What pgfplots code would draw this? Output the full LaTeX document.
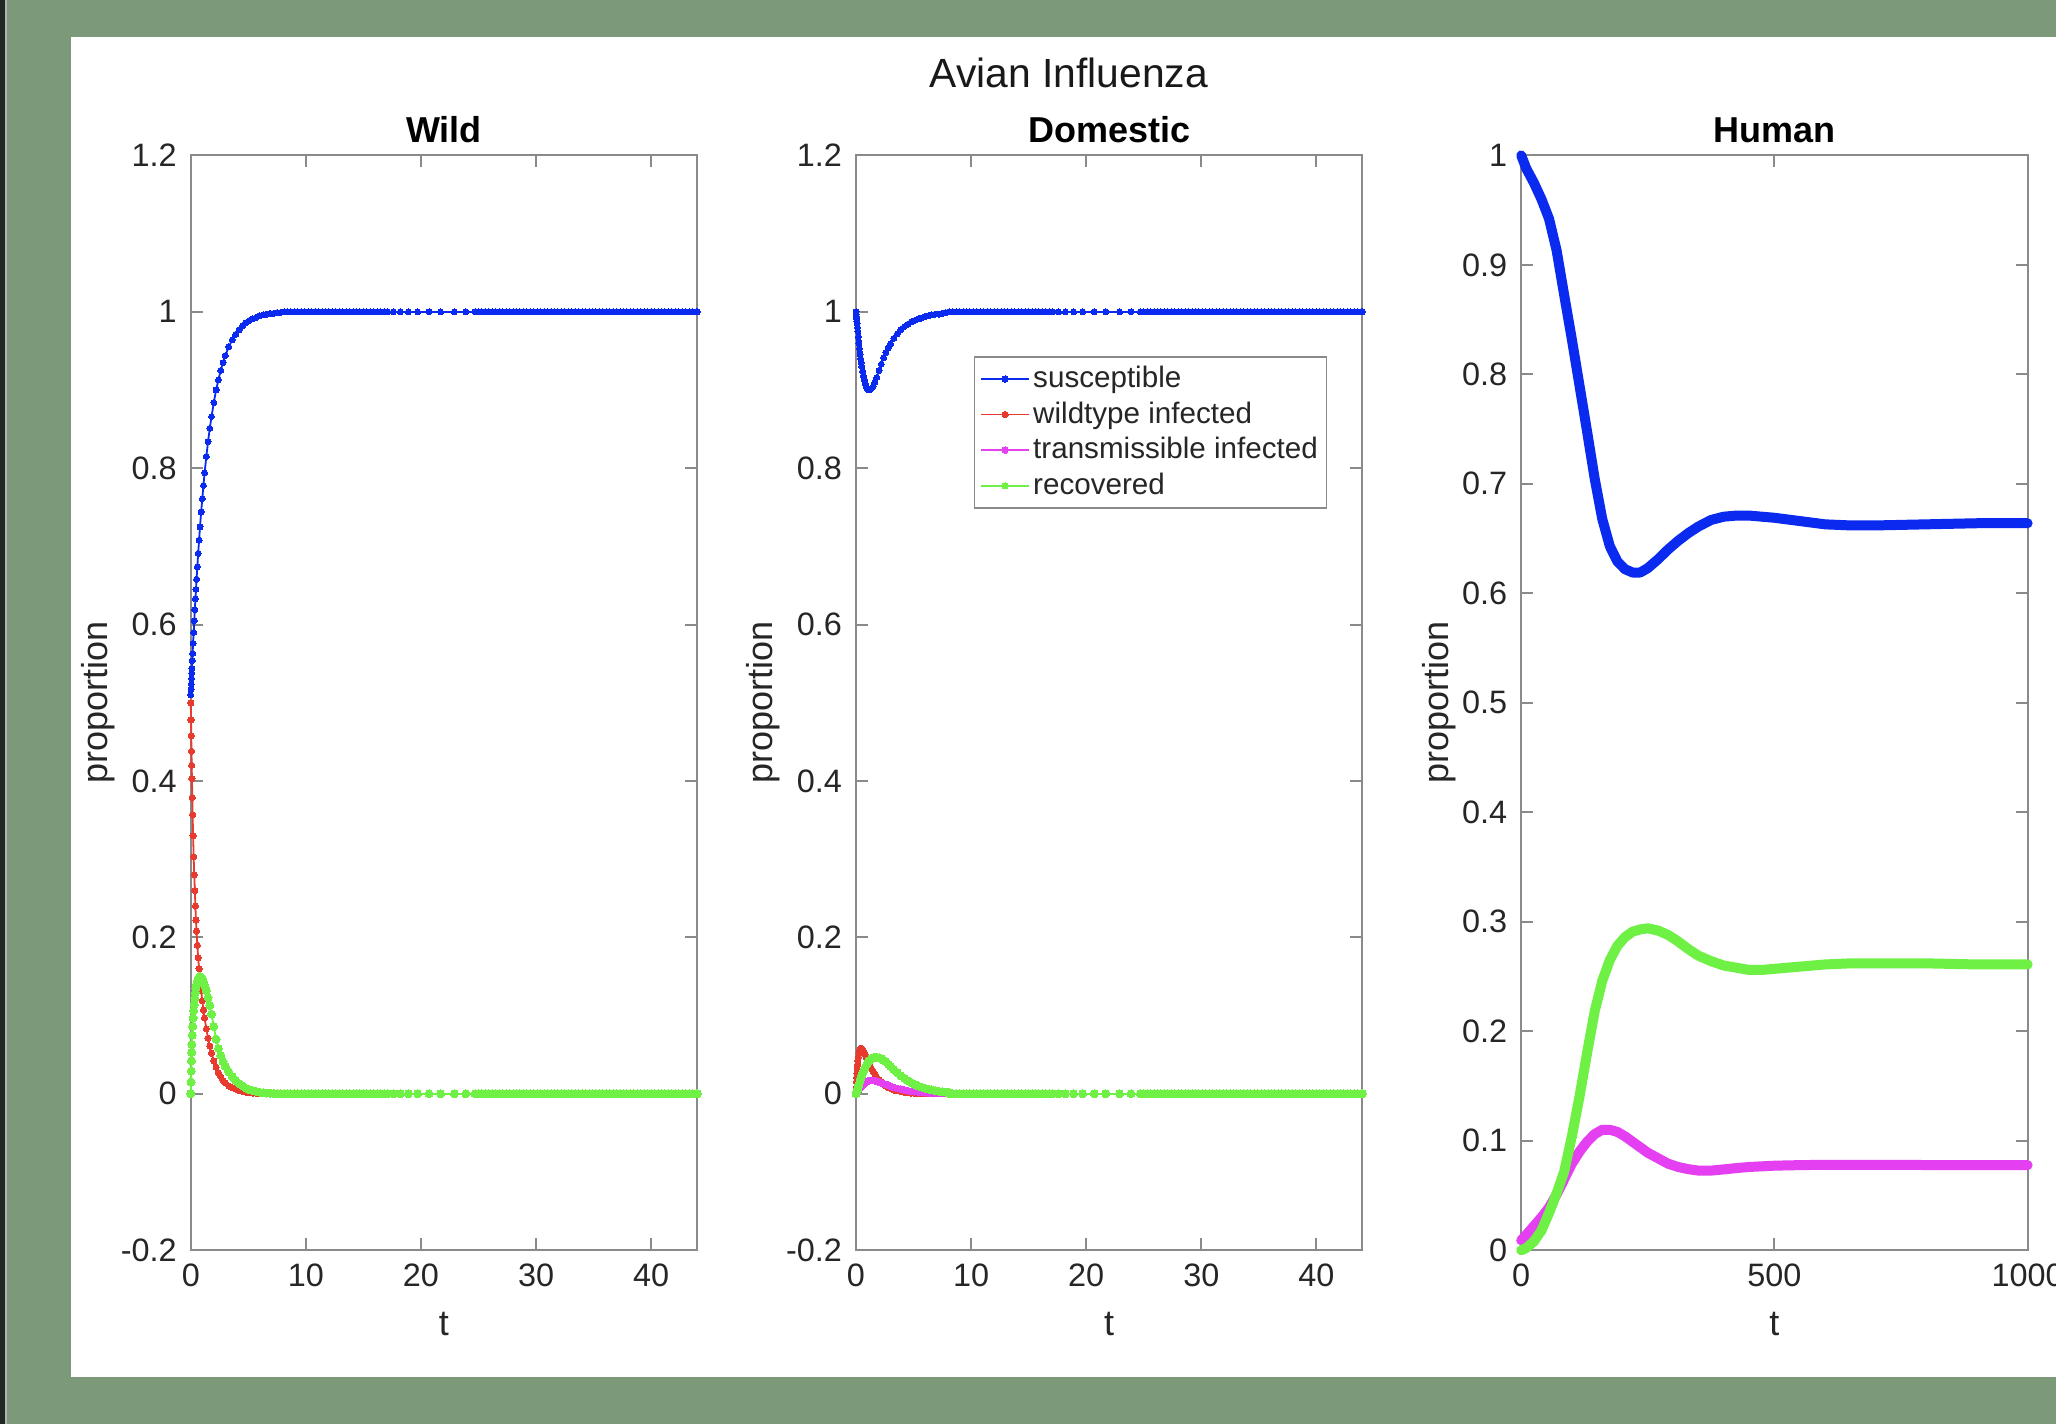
\documentclass[border=0pt]{standalone}
\usepackage{pgfplots}
\pgfplotsset{compat=1.18}
\usepackage{pgfplotstable}
\usepackage{fontspec}
\setmainfont{Liberation Sans}
\setsansfont{Liberation Sans}

\definecolor{bggreen}{HTML}{7C9A7A}
\definecolor{strip}{HTML}{1E2A22}
\definecolor{sblue}{HTML}{0A2BEF}
\definecolor{sred}{HTML}{E63B2E}
\definecolor{smag}{HTML}{E43FF0}
\definecolor{sgreen}{HTML}{6EF045}
\definecolor{axgray}{HTML}{8A8A8A}
\definecolor{txt}{HTML}{262626}

% wild birds, first 8 time units (t S W T R)
\pgfplotstableread[row sep=\\]{
t S W T R\\
0 0.510 0.500 0 0\\
0.02 0.517 0.478 0 0.015\\
0.04 0.524 0.458 0 0.029\\
0.06 0.531 0.438 0 0.042\\
0.08 0.538 0.420 0 0.053\\
0.10 0.544 0.403 0 0.063\\
0.13 0.554 0.379 0 0.075\\
0.16 0.563 0.357 0 0.086\\
0.20 0.576 0.330 0 0.097\\
0.25 0.590 0.303 0 0.106\\
0.30 0.605 0.280 0 0.114\\
0.35 0.619 0.260 0 0.122\\
0.40 0.633 0.240 0 0.129\\
0.45 0.645 0.222 0 0.135\\
0.50 0.658 0.208 0 0.140\\
0.57 0.674 0.190 0 0.144\\
0.64 0.691 0.174 0 0.147\\
0.72 0.708 0.160 0 0.149\\
0.80 0.725 0.147 0 0.150\\
0.90 0.744 0.132 0 0.149\\
1.00 0.761 0.119 0 0.147\\
1.10 0.778 0.107 0 0.143\\
1.20 0.794 0.097 0 0.139\\
1.35 0.815 0.083 0 0.132\\
1.50 0.834 0.071 0 0.123\\
1.65 0.851 0.061 0 0.113\\
1.80 0.866 0.052 0 0.102\\
2.00 0.884 0.042 0 0.086\\
2.20 0.900 0.034 0 0.070\\
2.40 0.913 0.027 0 0.058\\
2.60 0.925 0.022 0 0.049\\
2.80 0.935 0.017 0 0.041\\
3.00 0.944 0.014 0 0.035\\
3.30 0.955 0.010 0 0.028\\
3.60 0.964 0.008 0 0.022\\
3.90 0.971 0.006 0 0.017\\
4.20 0.977 0.004 0 0.013\\
4.50 0.982 0.003 0 0.010\\
4.80 0.986 0.002 0 0.007\\
5.10 0.989 0.0015 0 0.005\\
5.40 0.991 0.001 0 0.004\\
5.70 0.993 0.0007 0 0.003\\
6.00 0.995 0.0005 0 0.002\\
6.30 0.996 0 0 0.0015\\
6.60 0.997 0 0 0.001\\
6.90 0.998 0 0 0.0007\\
7.20 0.998 0 0 0.0005\\
7.50 0.999 0 0 0.0003\\
7.80 0.999 0 0 0.0002\\
8.10 1.000 0 0 0\\
}\wildhead

% domestic birds, first 8 time units
\pgfplotstableread[row sep=\\]{
t S W T R\\
0 1.000 0 0 0\\
0.02 0.997 0.008 0.0004 0.0006\\
0.04 0.994 0.015 0.0008 0.0013\\
0.06 0.991 0.021 0.0012 0.002\\
0.08 0.988 0.026 0.0016 0.003\\
0.10 0.985 0.031 0.002 0.004\\
0.13 0.980 0.037 0.0027 0.0055\\
0.16 0.975 0.042 0.0034 0.007\\
0.20 0.968 0.047 0.0043 0.009\\
0.25 0.960 0.052 0.0054 0.0115\\
0.30 0.953 0.055 0.0064 0.014\\
0.35 0.946 0.057 0.0074 0.0165\\
0.40 0.940 0.058 0.0083 0.019\\
0.45 0.935 0.058 0.0092 0.021\\
0.50 0.930 0.058 0.010 0.023\\
0.57 0.924 0.057 0.011 0.026\\
0.64 0.918 0.055 0.012 0.028\\
0.72 0.913 0.053 0.013 0.031\\
0.80 0.908 0.050 0.014 0.034\\
0.90 0.904 0.046 0.015 0.037\\
1.00 0.901 0.043 0.016 0.039\\
1.10 0.900 0.040 0.0165 0.041\\
1.20 0.900 0.037 0.017 0.043\\
1.35 0.902 0.032 0.017 0.045\\
1.50 0.905 0.028 0.017 0.046\\
1.65 0.910 0.025 0.0165 0.0465\\
1.80 0.916 0.021 0.016 0.0465\\
2.00 0.925 0.018 0.015 0.046\\
2.20 0.933 0.015 0.014 0.045\\
2.40 0.941 0.012 0.013 0.043\\
2.60 0.948 0.010 0.012 0.041\\
2.80 0.954 0.008 0.011 0.038\\
3.00 0.959 0.007 0.0095 0.035\\
3.30 0.966 0.005 0.008 0.031\\
3.60 0.972 0.004 0.0068 0.027\\
3.90 0.977 0.003 0.0057 0.023\\
4.20 0.981 0.002 0.0048 0.020\\
4.50 0.984 0.0015 0.004 0.017\\
4.80 0.987 0.001 0.0033 0.014\\
5.10 0.989 0.0008 0.0027 0.012\\
5.40 0.991 0.0005 0.0022 0.010\\
5.70 0.992 0.0003 0.0018 0.0085\\
6.00 0.994 0.0002 0.0015 0.007\\
6.30 0.995 0 0.0012 0.006\\
6.60 0.996 0 0.001 0.005\\
6.90 0.997 0 0.0008 0.004\\
7.20 0.997 0 0.0006 0.0033\\
7.50 0.998 0 0.0005 0.0027\\
7.80 0.999 0 0.0004 0.0022\\
8.10 1.000 0 0 0.0018\\
}\domhead

% flat part after t = 8 (same solver steps in both bird panels)
\pgfplotstableread[row sep=\\]{
t one zero\\
8.1 1 0\\ 8.4 1 0\\ 8.7 1 0\\ 9.0 1 0\\ 9.3 1 0\\ 9.6 1 0\\ 9.9 1 0\\ 10.2 1 0\\
10.5 1 0\\ 10.8 1 0\\ 11.1 1 0\\ 11.4 1 0\\ 11.7 1 0\\ 12.0 1 0\\ 12.3 1 0\\ 12.6 1 0\\
12.9 1 0\\ 13.2 1 0\\ 13.5 1 0\\ 13.8 1 0\\ 14.1 1 0\\ 14.4 1 0\\ 14.7 1 0\\ 15.0 1 0\\
15.3 1 0\\ 15.6 1 0\\ 15.9 1 0\\ 16.2 1 0\\ 16.5 1 0\\ 16.8 1 0\\ 17.1 1 0\\ 17.6 1 0\\
18.2 1 0\\ 18.9 1 0\\ 19.7 1 0\\ 20.7 1 0\\ 21.7 1 0\\ 22.9 1 0\\ 23.9 1 0\\ 24.7 1 0\\
25.0 1 0\\ 25.3 1 0\\ 25.6 1 0\\ 25.9 1 0\\ 26.2 1 0\\ 26.5 1 0\\ 26.8 1 0\\ 27.1 1 0\\
27.4 1 0\\ 27.7 1 0\\ 28.0 1 0\\ 28.3 1 0\\ 28.6 1 0\\ 28.9 1 0\\ 29.2 1 0\\ 29.5 1 0\\
29.8 1 0\\ 30.1 1 0\\ 30.4 1 0\\ 30.7 1 0\\ 31.0 1 0\\ 31.3 1 0\\ 31.6 1 0\\ 31.9 1 0\\
32.2 1 0\\ 32.5 1 0\\ 32.8 1 0\\ 33.1 1 0\\ 33.4 1 0\\ 33.7 1 0\\ 34.0 1 0\\ 34.3 1 0\\
34.6 1 0\\ 34.9 1 0\\ 35.2 1 0\\ 35.5 1 0\\ 35.8 1 0\\ 36.1 1 0\\ 36.4 1 0\\ 36.7 1 0\\
37.0 1 0\\ 37.3 1 0\\ 37.6 1 0\\ 37.9 1 0\\ 38.2 1 0\\ 38.5 1 0\\ 38.8 1 0\\ 39.1 1 0\\
39.4 1 0\\ 39.7 1 0\\ 40.0 1 0\\ 40.3 1 0\\ 40.6 1 0\\ 40.9 1 0\\ 41.2 1 0\\ 41.5 1 0\\
41.8 1 0\\ 42.1 1 0\\ 42.4 1 0\\ 42.7 1 0\\ 43.0 1 0\\ 43.3 1 0\\ 43.6 1 0\\ 43.9 1 0\\
44.0 1 0\\
}\tail

% humans (t S T R)
\pgfplotstableread[row sep=\\]{
t S T R\\
0 1.000 0.009 0\\
10 0.988 0.014 0.002\\
25 0.975 0.022 0.008\\
40 0.960 0.030 0.018\\
55 0.942 0.039 0.034\\
70 0.913 0.051 0.052\\
85 0.872 0.065 0.072\\
100 0.832 0.079 0.104\\
115 0.790 0.090 0.140\\
130 0.748 0.099 0.180\\
145 0.705 0.106 0.218\\
160 0.668 0.110 0.246\\
175 0.643 0.110 0.265\\
190 0.629 0.108 0.278\\
205 0.622 0.104 0.286\\
220 0.619 0.099 0.291\\
235 0.619 0.094 0.293\\
250 0.623 0.089 0.294\\
270 0.631 0.084 0.292\\
290 0.640 0.079 0.288\\
310 0.648 0.076 0.282\\
330 0.655 0.074 0.275\\
350 0.661 0.0727 0.269\\
375 0.667 0.0727 0.264\\
400 0.670 0.0738 0.260\\
425 0.671 0.0750 0.258\\
450 0.671 0.0760 0.256\\
475 0.670 0.0766 0.256\\
500 0.669 0.0772 0.257\\
550 0.666 0.0777 0.259\\
600 0.663 0.0780 0.261\\
650 0.662 0.0780 0.262\\
700 0.662 0.0780 0.262\\
800 0.663 0.0778 0.262\\
900 0.664 0.0777 0.261\\
1000 0.664 0.0777 0.261\\
}\human

\pgfplotsset{
  avian/.style={
    scale only axis, width=126.6pt, height=273.7pt,
    anchor=south west, clip=false,
    axis line style={axgray, line width=0.5pt},
    tick style={axgray, line width=0.5pt},
    major tick length=3pt, tick align=inside,
    xtick pos=both, ytick pos=both,
    tick label style={font=\fontsize{8.1}{9}\selectfont, text=txt},
    label style={font=\fontsize{9}{10}\selectfont, text=txt},
    title style={font=\fontsize{9}{10}\selectfont\bfseries,
      at={(axis description cs:0.5,0.9901)}, anchor=base},
    /pgf/number format/assume math mode=true,
    /pgf/number format/1000 sep={},
    xlabel={t}, ylabel={proportion},
    xlabel style={at={(axis description cs:0.5,-0.0676)}, anchor=center},
  },
  birds/.style={avian, xmin=0, xmax=44, ymin=-0.2, ymax=1.2,
    xtick={0,10,20,30,40}, ytick={-0.2,0,0.2,0.4,0.6,0.8,1,1.2}},
  dots/.style={line width=0.45pt, mark=*, mark size=#1,
    mark options={solid, line width=0pt}},
  thickline/.style={line width=2.5pt, line join=round, line cap=round},
}

\begin{document}
\begin{tikzpicture}
\useasboundingbox (0,0) rectangle (514pt,356pt);
\fill[bggreen] (0,0) rectangle (514pt,356pt);
\fill[white] (17.75pt,11.75pt) rectangle (514pt,346.75pt);
\fill[strip] (0,0) rectangle (1.2pt,356pt);
\fill[black!30] (1.2pt,0) rectangle (1.7pt,356pt);
\node[font=\fontsize{10.2}{12}\selectfont, text=black!90, anchor=base]
  at (267.2pt,334pt) {Avian Influenza};

% Wild
\begin{axis}[birds, at={(47.7pt,43.45pt)}, title={Wild},
  ylabel style={at={(axis description cs:-0.1825,0.5)}, anchor=center}]
\addplot[sblue, dots=0.75pt] table[x=t, y=S] {\wildhead};
\addplot[sblue, dots=0.75pt] table[x=t, y=one] {\tail};
\addplot[sred, dots=0.78pt] table[x=t, y=W] {\wildhead};
\addplot[sred, dots=0.78pt] table[x=t, y=zero] {\tail};
\addplot[sgreen, dots=1.0pt] table[x=t, y=R] {\wildhead};
\addplot[sgreen, dots=1.0pt] table[x=t, y=zero] {\tail};
\end{axis}

% Domestic
\begin{axis}[birds, at={(214.0pt,43.45pt)}, title={Domestic},
  ylabel style={at={(axis description cs:-0.1833,0.5)}, anchor=center},
  legend style={at={(axis description cs:0.2327,0.8168)}, anchor=north west,
    draw=axgray, fill=white, font=\fontsize{7.4}{8}\selectfont, text=txt,
    inner xsep=1.4pt, inner ysep=1.1pt, row sep=0pt,
    nodes={inner sep=0.8pt, text height=5.8pt, text depth=1.5pt}},
  legend cell align=left,
  legend image code/.code={
    \draw[mark repeat=2, mark phase=2, mark size=0.8pt, #1]
      plot coordinates {(0pt,0pt) (6pt,0pt) (12pt,0pt)};}]
\addplot[sblue, dots=0.75pt] table[x=t, y=S] {\domhead};
\addlegendentry{susceptible}
\addplot[sred, dots=0.78pt] table[x=t, y=W] {\domhead};
\addlegendentry{wildtype infected}
\addplot[smag, dots=0.85pt] table[x=t, y=T] {\domhead};
\addlegendentry{transmissible infected}
\addplot[sgreen, dots=1.0pt] table[x=t, y=R] {\domhead};
\addlegendentry{recovered}
\addplot[sblue, dots=0.75pt, forget plot] table[x=t, y=one] {\tail};
\addplot[sgreen, dots=1.0pt, forget plot] table[x=t, y=zero] {\tail};
\end{axis}

% Human
\begin{axis}[avian, at={(380.3pt,43.45pt)}, title={Human},
  xmin=0, xmax=1000, ymin=0, ymax=1,
  xtick={0,500,1000}, ytick={0,0.1,0.2,0.3,0.4,0.5,0.6,0.7,0.8,0.9,1},
  ylabel style={at={(axis description cs:-0.1611,0.5)}, anchor=center}]
\addplot[sblue, thickline] table[x=t, y=S] {\human};
\addplot[smag, thickline] table[x=t, y=T] {\human};
\addplot[sgreen, thickline] table[x=t, y=R] {\human};
\end{axis}
\end{tikzpicture}
\end{document}
